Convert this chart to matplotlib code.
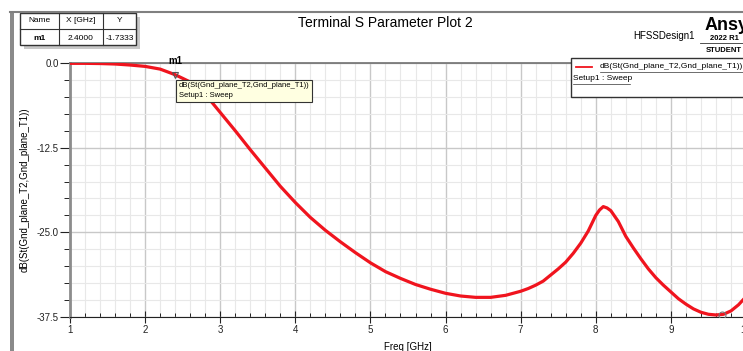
import matplotlib.pyplot as plt
from matplotlib.patches import Rectangle
from matplotlib.ticker import MultipleLocator

plt.rcParams['font.family'] = ['Liberation Sans', 'DejaVu Sans']

# values
freq = [1.0, 1.2, 1.4, 1.6, 1.8, 2.0, 2.2, 2.4, 2.6, 2.8, 3.0, 3.2, 3.4, 3.6, 3.8,
        4.0, 4.2, 4.4, 4.6, 4.8, 5.0, 5.2, 5.4, 5.6, 5.8, 6.0, 6.2, 6.4, 6.6, 6.8,
        7.0, 7.1, 7.2, 7.3, 7.4, 7.5, 7.6, 7.7, 7.8, 7.9, 8.0, 8.05, 8.1, 8.15, 8.2,
        8.3, 8.4, 8.5, 8.6, 8.7, 8.8, 8.9, 9.0, 9.1, 9.2, 9.3, 9.4, 9.5, 9.6,
        9.7, 9.8, 9.9, 10.0]
s21 = [-0.05, -0.05, -0.08, -0.15, -0.3, -0.5, -0.9, -1.73, -2.8, -4.6, -7.3, -10.0,
       -12.8, -15.5, -18.2, -20.6, -22.8, -24.7, -26.4, -28.0, -29.5, -30.8, -31.8,
       -32.7, -33.4, -34.0, -34.4, -34.6, -34.6, -34.3, -33.7, -33.3, -32.8, -32.2,
       -31.3, -30.4, -29.4, -28.1, -26.6, -24.8, -22.5, -21.7, -21.2, -21.4, -21.8,
       -23.4, -25.6, -27.3, -28.9, -30.4, -31.7, -32.8, -33.8, -34.8, -35.6, -36.3,
       -36.8, -37.1, -37.2, -37.1, -36.6, -35.7, -34.5]
m1_x, m1_y = 2.4, -1.7333
m2_x, m2_y = 9.68, -37.15
trace = 'dB(St(Gnd_plane_T2,Gnd_plane_T1))'

W, H = 743, 351
fig = plt.figure(figsize=(W / 100, H / 100), dpi=100)
ax = fig.add_axes([70 / W, 1 - 317 / H, (746 - 70) / W, (317 - 63) / H])

red = '#f0141e'
ax.plot(freq, s21, color=red, lw=2.3, zorder=3)
ax.plot([m1_x], [m1_y], marker='v', ms=5, mfc='none', mec='#555555', mew=0.8, zorder=4)
ax.plot([m2_x], [m2_y], marker='o', ms=5, mfc='none', mec='#777777', mew=0.8, zorder=4)
ax.text(m1_x, 0.3, 'm1', fontsize=7, fontweight='bold', ha='center', va='center')

ax.set_xlim(1, 10)
ax.set_ylim(-37.5, 0)
ax.xaxis.set_major_locator(MultipleLocator(1))
ax.xaxis.set_minor_locator(MultipleLocator(0.2))
ax.yaxis.set_major_locator(MultipleLocator(12.5))
ax.yaxis.set_minor_locator(MultipleLocator(2.5))
ax.grid(which='major', color='#c8c8c8', lw=1.0)
ax.grid(which='minor', color='#e8e8e8', lw=0.8)
ax.set_axisbelow(True)
ax.tick_params(axis='both', labelsize=7, colors='#222222')
ax.tick_params(axis='x', which='major', direction='inout', length=8, pad=2)
ax.tick_params(axis='x', which='minor', direction='in', length=3)
ax.tick_params(axis='y', which='major', direction='out', length=7, pad=1)
ax.tick_params(axis='y', which='minor', direction='out', length=4)
ax.yaxis.set_major_formatter(plt.FuncFormatter(lambda v, p: f'{v:.1f}'))
ax.spines['left'].set_color('#8c8c8c')
ax.spines['left'].set_linewidth(2)
ax.spines['top'].set_color('#707070')
ax.spines['top'].set_linewidth(1.2)
ax.spines['right'].set_visible(False)
ax.spines['bottom'].set_color('#222222')
ax.set_xlabel('Freq [GHz]', fontsize=7, labelpad=5)
ax.set_ylabel(trace, fontsize=7)
ax.yaxis.set_label_coords(-0.059, 0.5)

# marker data label
ax.text(2.445, -4.1, trace + '\nSetup1 : Sweep', fontsize=5.5, va='center', ha='left',
        linespacing=1.6, zorder=5,
        bbox=dict(boxstyle='square,pad=0.35', fc='#ffffe1', ec='#333333', lw=0.8))

# frame of the report window
fig.patches.append(Rectangle((10 / W, 0), 4 / W, 1 - 12 / H, transform=fig.transFigure,
                             fc='#8a8a8a', ec='none'))
fig.lines.append(plt.Line2D([10 / W, 1], [1 - 12 / H, 1 - 12 / H], transform=fig.transFigure,
                            color='#808080', lw=1.5))

fig.text(385 / W, 1 - 23 / H, 'Terminal S Parameter Plot 2', fontsize=10,
         ha='center', va='center')
fig.text(633 / W, 1 - 36 / H, 'HFSSDesign1', fontsize=7, ha='left', va='center')
fig.text(705 / W, 1 - 25 / H, 'Ansys', fontsize=13, fontweight='bold', ha='left', va='center')
fig.text(710 / W, 1 - 38 / H, '2022 R1', fontsize=5.5, fontweight='bold', ha='left', va='center')
fig.lines.append(plt.Line2D([700 / W, 1], [1 - 43 / H, 1 - 43 / H], transform=fig.transFigure,
                            color='#333333', lw=0.6))
fig.text(706 / W, 1 - 51 / H, 'STUDENT', fontsize=5.5, fontweight='bold', ha='left', va='center')

# marker table
tx0, tx1, ty0, ty1 = 20, 136, 13, 45
fig.patches.append(Rectangle((tx0 / W + 4 / W, 1 - (ty1 + 4) / H), (tx1 - tx0) / W, (ty1 - ty0) / H,
                             transform=fig.transFigure, fc='#c8c8c8', ec='none'))
fig.patches.append(Rectangle((tx0 / W, 1 - ty1 / H), (tx1 - tx0) / W, (ty1 - ty0) / H,
                             transform=fig.transFigure, fc='white', ec='#333333', lw=1))
for cx in [59, 103]:
    fig.lines.append(plt.Line2D([cx / W, cx / W], [1 - ty0 / H, 1 - ty1 / H],
                                transform=fig.transFigure, color='#333333', lw=0.8))
fig.lines.append(plt.Line2D([tx0 / W, tx1 / W], [1 - 29 / H, 1 - 29 / H],
                            transform=fig.transFigure, color='#333333', lw=0.8))
for cx, head, val, bold in [(39.5, 'Name', 'm1', True), (81, 'X [GHz]', '2.4000', False),
                            (119.5, 'Y', '-1.7333', False)]:
    fig.text(cx / W, 1 - 21 / H, head, fontsize=6, ha='center', va='center')
    fig.text(cx / W, 1 - 38 / H, val, fontsize=6, ha='center', va='center',
             fontweight='bold' if bold else 'normal')

# legend box
lx0, ly0, ly1 = 571, 58, 97
fig.patches.append(Rectangle((lx0 / W, 1 - ly1 / H), 200 / W, (ly1 - ly0) / H,
                             transform=fig.transFigure, fc='white', ec='#333333', lw=1, zorder=5))
fig.lines.append(plt.Line2D([576 / W, 592 / W], [1 - 67 / H, 1 - 67 / H],
                            transform=fig.transFigure, color=red, lw=1.3, zorder=6))
fig.text(600 / W, 1 - 67 / H, trace, fontsize=6, ha='left', va='center', zorder=6)
fig.lines.append(plt.Line2D([600 / W, 1], [1 - 71.5 / H, 1 - 71.5 / H],
                            transform=fig.transFigure, color='#333333', lw=0.5, zorder=6))
fig.text(573 / W, 1 - 79 / H, 'Setup1 : Sweep', fontsize=6, ha='left', va='center', zorder=6)
fig.lines.append(plt.Line2D([573 / W, 630 / W], [1 - 83.5 / H, 1 - 83.5 / H],
                            transform=fig.transFigure, color='#333333', lw=0.5, zorder=6))

fig.savefig('out.png', dpi=100)
